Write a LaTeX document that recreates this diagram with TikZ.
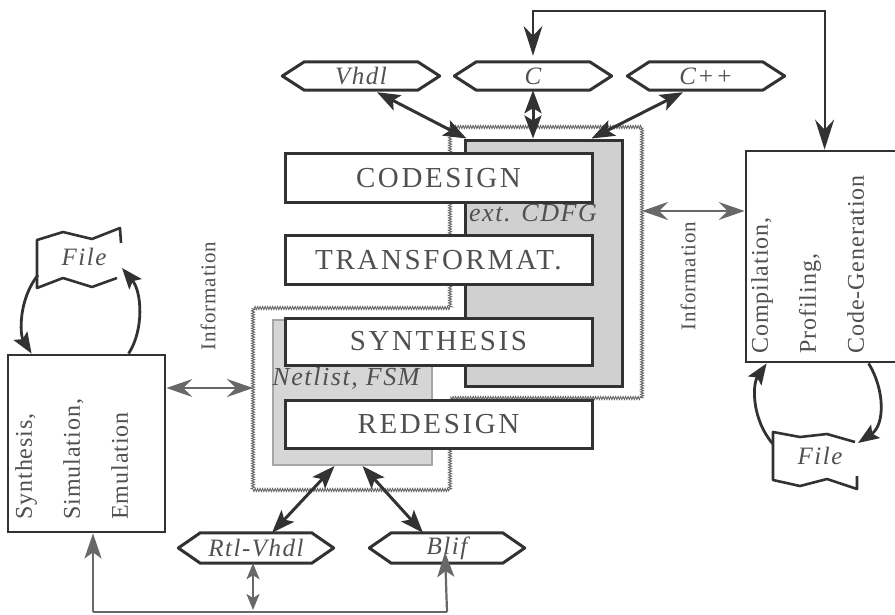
\documentclass[tikz,border=0pt]{standalone}
\usepackage{fontspec}
\setmainfont{Liberation Serif}
\newfontfamily\boxfont[LetterSpace=9]{Liberation Serif}
\newfontfamily\labfont[LetterSpace=6]{Liberation Serif}
\newfontfamily\sidefont[LetterSpace=4]{Liberation Serif}
\usetikzlibrary{arrows.meta,calc,decorations.pathmorphing}

\definecolor{edge}{HTML}{323232}
\definecolor{ink}{HTML}{505050}
\definecolor{wire}{HTML}{686868}
\definecolor{shade}{HTML}{D0D0D0}
\definecolor{shadelt}{HTML}{D6D6D6}
\definecolor{hatchc}{HTML}{666666}

\begin{document}
\begin{tikzpicture}[x=1pt,y=-1pt,
  stage/.style={draw=edge, line width=3pt, fill=white, minimum width=307pt,
    minimum height=49pt, inner sep=0pt, text=ink,
    font=\boxfont\fontsize{29}{30}\selectfont},
  hexlab/.style={minimum width=157pt, minimum height=28pt, inner sep=0pt,
    text=ink, font=\labfont\itshape\fontsize{25}{26}\selectfont},
  hexline/.style={draw=edge, line width=3pt, line join=round},
  graylab/.style={inner sep=0pt, text=ink,
    font=\labfont\itshape\fontsize{26}{27}\selectfont},
  sidebox/.style={draw=edge, line width=2.8pt, fill=white, inner sep=0pt},
  sidetext/.style={rotate=90, align=left, inner sep=0pt, text=ink,
    font=\sidefont\fontsize{24}{48}\selectfont},
  infolab/.style={rotate=90, inner sep=0pt, text=ink,
    font=\sidefont\fontsize{21}{22}\selectfont},
  hatch/.style={draw=hatchc, line width=0.9pt,
    decorate, decoration={zigzag, segment length=2.5pt, amplitude=1.5pt}},
  cdfgbox/.style={draw=edge, line width=3pt, fill=shade, inner sep=0pt},
  netbox/.style={draw=gray!70, line width=2pt, fill=shadelt, inner sep=0pt},
  bigarrow/.style={draw=edge, line width=3pt, <->,
    >={Stealth[length=23pt,width=17pt,inset=5pt]}},
  infoarrow/.style={draw=wire, line width=1.8pt, <->,
    >={Stealth[length=26pt,width=18pt,inset=9pt]}},
  loopline/.style={draw=edge, line width=2.2pt, <->,
    >={Stealth[length=30pt,width=19pt,inset=10pt]}},
  busline/.style={draw=wire, line width=2pt},
  busarrow/.style={draw=wire, line width=2.2pt, ->,
    >={Stealth[length=25pt,width=17pt,inset=6pt]}},
  smallarrow/.style={draw=wire, line width=2.2pt, <->,
    >={Stealth[length=16pt,width=13pt,inset=4pt]}},
  filearrow/.style={draw=edge, line width=2.8pt, ->,
    >={Stealth[length=21pt,width=16pt,inset=4pt]}},
  fileline/.style={draw=edge, line width=2.6pt, line join=round},
  filelab/.style={inner sep=0pt, text=ink,
    font=\labfont\itshape\fontsize{25}{26}\selectfont}
]
\useasboundingbox (0,0) rectangle (895,614);

% hatched outline round the two working areas
\draw[hatch] (450,127) -- (642,127) -- (642,398) -- (450,398) -- (450,490)
  -- (253,490) -- (253,308) -- (450,308) -- cycle;
\coordinate (hl) at (253,388);
\coordinate (hr) at (642,211);

% shaded data areas
\node[cdfgbox, minimum width=157pt, minimum height=246pt] (cdfg) at (543.5,263) {};
\node[netbox, minimum width=159pt, minimum height=145pt] (netl) at (352.5,392.5) {};
\node[graylab] (cdfglab) at (533,213) {ext. CDFG};
\node[graylab] (netlab) at (346,378) {Netlist, FSM};

% design steps
\node[stage] (codesign) at (438.5,178) {CODESIGN};
\node[stage] (transf) at (438.5,260) {TRANSFORMAT.};
\node[stage, minimum height=47pt] (synthesis) at (438.5,341.5) {SYNTHESIS};
\node[stage, minimum height=48pt] (redesign) at (438.5,424) {REDESIGN};

% language formats
\node[hexlab] (vhdl) at (361,76) {Vhdl};
\node[hexlab] (cc) at (533,76) {C};
\node[hexlab] (cpp) at (706,76) {C++};
\node[hexlab, minimum width=155pt, minimum height=30pt] (rtl) at (256,548) {Rtl-Vhdl};
\node[hexlab, minimum width=155pt, minimum height=30pt] (blif) at (447,548) {Blif};
\foreach \n in {vhdl,cc,cpp,rtl,blif}
  \draw[hexline] (\n.west) -- ($(\n.north west)+(22,0)$) -- ($(\n.north east)+(-22,0)$)
    -- (\n.east) -- ($(\n.south east)+(-22,0)$) -- ($(\n.south west)+(22,0)$) -- cycle;

% side tools
\node[sidebox, minimum width=157pt, minimum height=177pt] (synth) at (86.5,443.5) {};
\node[sidetext, anchor=north west] (synthtxt) at (15,520) {Synthesis,\\Simulation,\\Emulation};
\node[sidebox, minimum width=154pt, minimum height=211pt] (comp) at (823,256.5) {};
\node[sidetext, anchor=north west] (comptxt) at (751,354) {Compilation,\\Profiling,\\Code-Generation};

\node[infolab] (infol) at (208,296) {Information};
\node[infolab] (infor) at (688,276) {Information};

% files
\node[filelab] (lfile) at (84,257) {File};
\draw[fileline] (121,243) -- (120,228) -- (92,239) -- (63,232) -- (37,240)
  -- (37,288) -- (63,278) -- (92,287) -- (117,278);
\node[filelab] (rfile) at (820,456) {File};
\draw[fileline] (855,442) -- (827,434) -- (800,437) -- (773,432)
  -- (773,480) -- (800,486) -- (827,479) -- (857,489) -- (857,476);

\draw[filearrow] ($(lfile)+(-46,18)$) .. controls (18,300) and (20,335) .. ($(synth.north west)+(25,0)$);
\draw[filearrow] ($(synth.north west)+(122,0)$) .. controls (144,330) and (142,292) .. ($(lfile)+(38,11)$);
\draw[filearrow] ($(rfile)+(-47,-12)$) .. controls (752,420) and (752,385) .. ($(comp.south west)+(22,0)$);
\draw[filearrow] ($(comp.south west)+(124,0)$) .. controls (885,390) and (885,425) .. ($(rfile)+(38,-13)$);

% exchange with the formats
\draw[bigarrow] ($(vhdl.south)+(16,2)$) -- ($(cdfg.north west)+(3,0)$);
\draw[bigarrow] (cc.south) -- (cc.south |- cdfg.north);
\draw[bigarrow] ($(cpp.south)+(-23,2)$) -- ($(cdfg.north east)+(-32,0)$);
\draw[bigarrow] ($(rtl.north)+(16,0)$) -- ($(netl.south)+(-18,0)$);
\draw[bigarrow] ($(netl.south)+(10,0)$) -- ($(blif.north)+(-24,0)$);

% information flow
\draw[infoarrow] (synth.east |- hl) -- (hl);
\draw[infoarrow] (hr) -- (comp.west |- hr);

% feedback from compilation to C
\draw[loopline] ($(cc.north)+(0,-6)$) |- ($(comp.north west)+(80,-139)$) -- ($(comp.north west)+(80,0)$);

% bottom bus
\coordinate (busL) at (93,612);
\coordinate (busR) at (447,612);
\coordinate (rtlout) at (253,610);
\draw[busline] (busL) -- (busR);
\draw[busarrow] (busL) -- (busL |- synth.south);
\draw[busarrow] (busR) -- ($(blif.center)+(-2,4)$);
\draw[smallarrow] ($(rtl.south)+(-3,0)$) -- (rtlout);
\end{tikzpicture}
\end{document}
